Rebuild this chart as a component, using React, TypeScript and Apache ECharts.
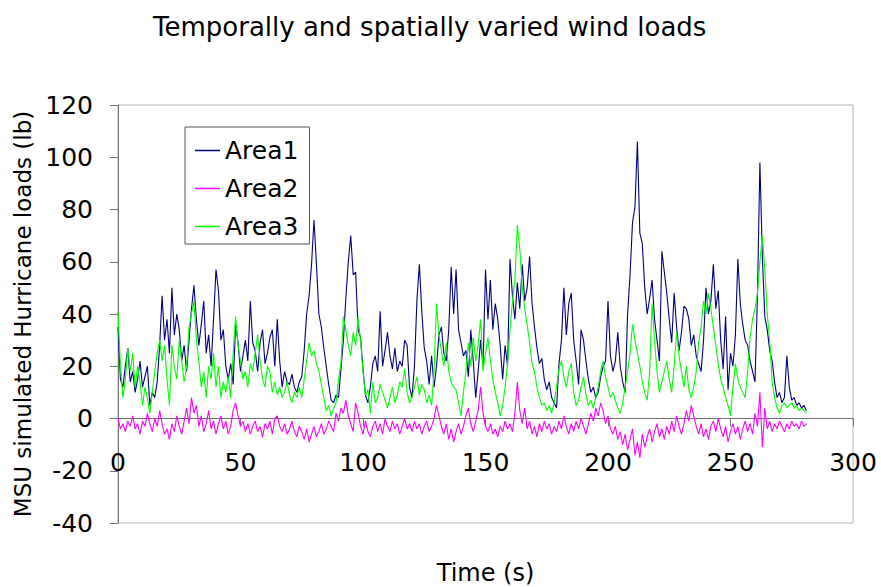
import { useEffect, useRef } from "react";
import * as echarts from "echarts";

// Sampling interval of the load records, in seconds.
const TIME_STEP_S = 1;

const SERIES_NAMES = ["Area1", "Area2", "Area3"];
const SERIES_COLORS = ["#000080", "#ff00ff", "#00ff00"];

// Simulated hurricane loads (lb), one value per second from t = 0 s.
const AREA1 = [
  35, 15, 12, 20, 27, 14, 18, 10, 15, 22,
  12, 16, 20, 5, 10, 8, 14, 28, 47, 30,
  38, 25, 50, 32, 40, 34, 22, 28, 18, 30,
  42, 51, 38, 28, 36, 45, 25, 32, 20, 38,
  57, 49, 30, 34, 20, 15, 21, 13, 36, 29,
  18, 24, 30, 22, 45, 29, 26, 18, 29, 34,
  21, 25, 31, 34, 20, 38, 22, 12, 18, 14,
  13, 17, 12, 10, 14, 16, 26, 40, 47, 59,
  76, 59, 40, 35, 27, 20, 13, 7, 6, 9,
  8, 19, 30, 46, 60, 70, 55, 56, 34, 31,
  19, 9, 6, 12, 21, 24, 18, 41, 20, 26,
  33, 24, 19, 27, 18, 22, 20, 30, 28, 12,
  8, 20, 45, 59, 41, 27, 22, 13, 24, 12,
  20, 32, 35, 25, 22, 34, 58, 40, 57, 34,
  29, 24, 26, 16, 34, 22, 8, 18, 30, 20,
  57, 38, 53, 34, 44, 38, 28, 15, 28, 20,
  61, 47, 38, 52, 42, 59, 45, 50, 62, 44,
  35, 27, 21, 23, 15, 11, 14, 8, 6, 4,
  21, 30, 50, 32, 44, 48, 30, 22, 13, 34,
  30, 22, 15, 10, 12, 8, 10, 16, 20, 22,
  45, 24, 18, 22, 33, 20, 14, 10, 40, 55,
  75, 81, 106, 71, 67, 50, 40, 46, 53, 38,
  30, 22, 64, 56, 48, 38, 29, 48, 35, 26,
  33, 43, 42, 38, 28, 32, 24, 21, 18, 30,
  50, 40, 45, 59, 42, 49, 30, 19, 39, 11,
  25, 20, 32, 61, 44, 36, 30, 28, 22, 18,
  14, 47, 98, 62, 39, 34, 26, 22, 14, 8,
  10, 6, 8, 24, 12, 7, 8, 5, 6, 4,
  5, 3,
];

const AREA2 = [
  0, -4, -2, -5, -1, -3, 1, -4, -2, -6,
  -1, -3, 2, -2, -5, 0, -3, 3, -2, -6,
  -4, -8, -2, -5, 1, -3, -6, -1, 4, -2,
  8, 2, 5, -3, 1, -5, -2, 3, -4, -1,
  -6, -2, 1, -4, -1, -6, -3, 3, 6, 1,
  -3, -1, -5, -2, -6, -3, -1, -5, -3, -7,
  -2, -4, -1, -6, 0, 1, -3, -5, -2, -6,
  -4, -1, -5, -7, -3, -5, -8, -4, -9, -6,
  -3, -7, -5, -2, -6, -4, -1, -3, -5, 2,
  -1, 4, 2, 7, 1, -2, -5, 6, 2, -3,
  -6, -1, -5, -7, -3, -1, -5, -2, -6, 0,
  -3, -5, -1, -4, -2, -6, -3, 0, -4, -2,
  -5, -1, -4, -2, -6, -3, -1, -5, -3, 0,
  5, 1, -3, -6, -2, -8, -4, -9, -5, -2,
  -6, -3, 1, 4, -2, -5, -1, 3, 12, 2,
  -3, -5, -2, -6, -4, -7, -3, -5, -1, -4,
  -2, -5, 2, 14, 3, -2, 4, -4, -1, -6,
  -3, -7, -2, -5, -1, -4, -2, -6, -3, -5,
  -1, -4, 1, -3, -6, -2, -5, -1, -4, 0,
  -3, -6, -2, 2, -1, 4, 1, 6, 3, -2,
  1, -4, -6, -3, -8, -5, -10, -6, -12, -8,
  -4, -14, -9, -15, -6, -11, -7, -4, -9, -5,
  -2, -7, -4, -8, -3, -6, -1, -5, 1, -3,
  -6, -2, 3, -1, 5, 1, -3, -6, -2, -7,
  -4, -8, -3, -1, -5, 0, -4, -7, -3, -9,
  -5, -2, -6, -3, -8, -4, -1, -5, -2, -6,
  2, -3, 10, -11, 4, -4, -1, -5, -2, -4,
  -1, -3, -5, -2, -4, -1, -3, -2, -4, -1,
  -3, -2,
];

const AREA3 = [
  41, 20, 8, 15, 27, 18, 25, 12, 20, 14,
  5, 12, 8, 2, 10, 18, 25, 30, 22, 28,
  15, 5, 28, 20, 15, 30, 22, 14, 20, 35,
  40, 45, 30, 22, 12, 18, 8, 20, 15, 25,
  12, 20, 8, 14, 10, 16, 8, 25, 39, 28,
  22, 15, 18, 12, 21, 18, 25, 32, 22, 15,
  12, 20, 18, 10, 14, 9, 12, 8, 10, 14,
  9, 6, 10, 8, 12, 8, 15, 22, 29, 24,
  26, 21, 18, 13, 8, 3, 5, 1, 4, 6,
  15, 21, 39, 34, 28, 24, 33, 28, 39, 30,
  18, 9, 11, 2, 14, 6, 8, 13, 10, 7,
  4, 8, 12, 6, 9, 14, 12, 19, 10, 6,
  8, 12, 16, 9, 13, 11, 6, 9, 5, 18,
  44, 32, 26, 20, 29, 18, 14, 12, 11, 6,
  1, 10, 18, 29, 20, 31, 22, 28, 38, 18,
  25, 31, 22, 15, 10, 6, 1, 5, 12, 21,
  34, 45, 53, 74, 65, 50, 42, 36, 29, 21,
  18, 12, 8, 5, 6, 3, 5, 2, 6, 12,
  19, 22, 16, 12, 18, 21, 10, 5, 7, 12,
  16, 9, 5, 7, 4, 8, 12, 18, 22, 16,
  12, 8, 10, 7, 4, 2, 6, 12, 18, 25,
  36, 30, 25, 20, 14, 10, 7, 18, 44, 30,
  18, 10, 14, 18, 22, 15, 10, 20, 33, 24,
  18, 12, 20, 11, 8, 12, 18, 29, 35, 45,
  40, 48, 42, 35, 28, 21, 15, 12, 8, 5,
  1, 12, 21, 15, 12, 10, 8, 18, 31, 38,
  42, 48, 60, 70, 57, 40, 30, 14, 8, 4,
  2, 5, 6, 4, 5, 6, 4, 5, 3, 4,
  3, 2,
];

const SERIES_VALUES = [AREA1, AREA2, AREA3];

const FONT = "DejaVu Sans";
const AXIS_GREY = "#707070";

// Plot box in pixels, and the value range of the load axis.
const GRID = { left: 118, right: 28, top: 105, bottom: 64 };
const Y_MIN = -40;
const Y_MAX = 120;
const CHART_H = 587;

// The time axis sits on the zero-load line: shift it up from the plot bottom.
const plotH = CHART_H - GRID.top - GRID.bottom;
const X_AXIS_OFFSET = -((0 - Y_MIN) / (Y_MAX - Y_MIN)) * plotH;

const toPairs = (values: number[]) => values.map((v, i) => [i * TIME_STEP_S, v]);

export default function App() {
  const ref = useRef<HTMLDivElement>(null);

  useEffect(() => {
    if (!ref.current) return;
    const chart = echarts.init(ref.current, null, { renderer: "svg" });
    chart.setOption({
      animation: false,
      backgroundColor: "#ffffff",
      title: {
        text: "Temporally and spatially varied wind loads",
        left: 148,
        top: 9,
        textStyle: { fontFamily: FONT, fontSize: 26, fontWeight: "normal", color: "#000" },
      },
      legend: {
        orient: "vertical",
        left: 185,
        top: 127,
        data: SERIES_NAMES,
        icon: "rect",
        backgroundColor: "#ffffff",
        borderColor: "#555555",
        borderWidth: 1,
        padding: [11, 11, 5, 10],
        itemWidth: 25,
        itemHeight: 1.5,
        itemGap: 13,
        textStyle: { fontFamily: FONT, fontSize: 25, color: "#000" },
      },
      grid: {
        ...GRID,
        containLabel: false,
        outerBoundsMode: "none",
        show: true,
        borderColor: "#b4b4b4",
        borderWidth: 1,
        backgroundColor: "transparent",
      },
      xAxis: {
        type: "value",
        min: 0,
        max: 300,
        interval: 50,
        offset: X_AXIS_OFFSET,
        name: "Time (s)",
        nameLocation: "middle",
        nameGap: 142,
        nameTextStyle: { fontFamily: FONT, fontSize: 24, color: "#000" },
        axisLine: { show: true, onZero: false, lineStyle: { color: AXIS_GREY, width: 1 } },
        axisTick: { show: true, length: 8, lineStyle: { color: AXIS_GREY } },
        axisLabel: { margin: 31, fontFamily: FONT, fontSize: 25, color: "#000" },
        splitLine: { show: false },
      },
      yAxis: {
        type: "value",
        min: Y_MIN,
        max: Y_MAX,
        interval: 20,
        name: "MSU simulated Hurricane loads (lb)",
        nameLocation: "middle",
        nameGap: 77,
        nameTextStyle: { fontFamily: FONT, fontSize: 23, color: "#000" },
        axisLine: { show: true, lineStyle: { color: AXIS_GREY, width: 1 } },
        axisTick: { show: true, length: 8, lineStyle: { color: AXIS_GREY } },
        axisLabel: { margin: 25, fontFamily: FONT, fontSize: 25, color: "#000" },
        splitLine: { show: false },
      },
      series: SERIES_NAMES.map((name, k) => ({
        name,
        type: "line",
        data: toPairs(SERIES_VALUES[k]),
        symbol: "none",
        showSymbol: false,
        color: SERIES_COLORS[k],
        lineStyle: { color: SERIES_COLORS[k], width: 1.1 },
      })),
    });
    return () => chart.dispose();
  }, []);

  return (
    <div
      ref={ref}
      style={{ position: "fixed", left: 0, top: 0, width: 881, height: 587, background: "#fff" }}
    />
  );
}
